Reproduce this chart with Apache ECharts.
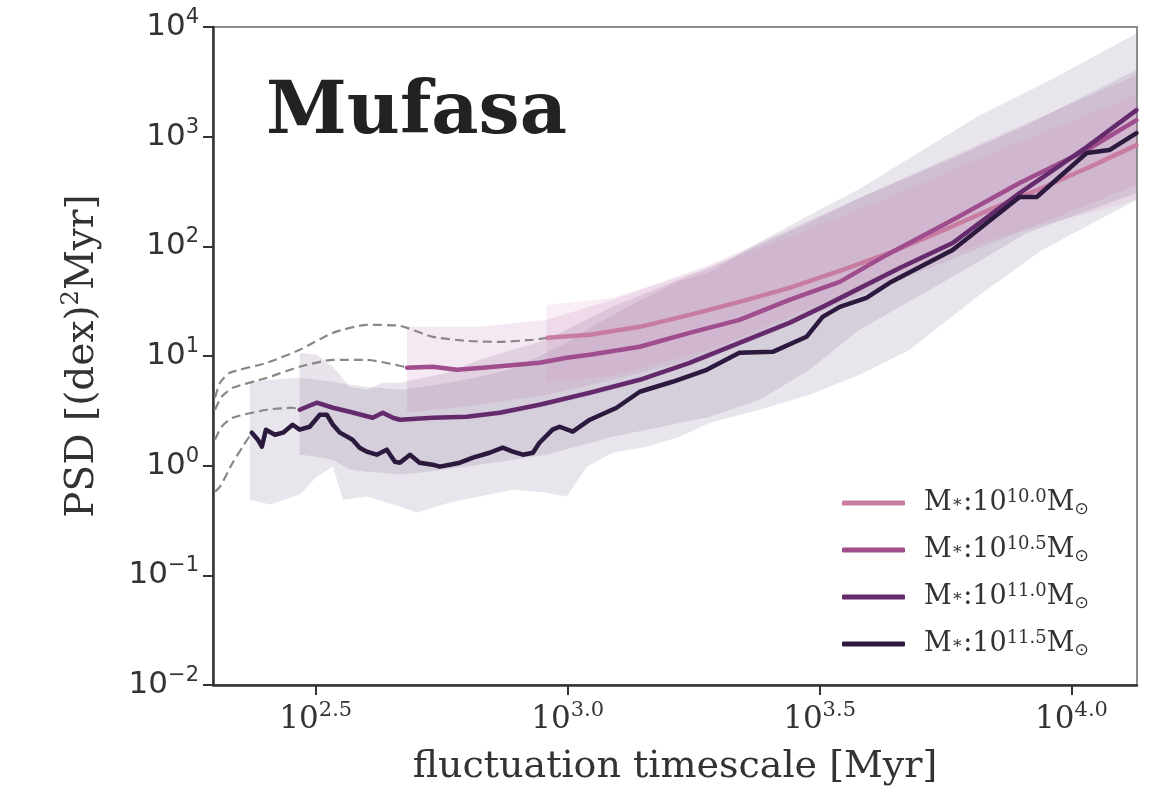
<!DOCTYPE html>
<html><head><meta charset="utf-8">
<script src="https://cdn.jsdelivr.net/npm/echarts@6/dist/echarts.min.js"></script>
<style>html,body{margin:0;padding:0;background:#fff}#c{width:1149px;height:793px}</style>
</head><body><div id="c"></div>
<script>
// all values are log10: x = log10(timescale / Myr), y = log10(PSD)
const massLabels = ['10.0', '10.5', '11.0', '11.5'];
const lineColors = ['#c97ca2', '#a04d8d', '#652a6c', '#2b1a3e'];
const xTickValues = [2.5, 3.0, 3.5, 4.0];
const yTickValues = [-2, -1, 0, 1, 2, 3, 4];

// median PSD lines
const x100 = [2.960,3.044,3.143,3.242,3.341,3.440,3.540,3.639,3.738,3.837,3.937,4.036,4.129];
const y100 = [1.166,1.193,1.266,1.375,1.494,1.621,1.776,1.940,2.131,2.332,2.523,2.723,2.923];
const x105 = [2.681,2.732,2.780,2.831,2.899,2.944,2.998,3.044,3.143,3.242,3.341,3.440,3.540,3.633,3.764,3.897,4.030,4.129];
const y105 = [0.893,0.902,0.874,0.893,0.920,0.938,0.984,1.011,1.084,1.211,1.330,1.512,1.676,1.922,2.240,2.577,2.878,3.151];
const x110 = [2.468,2.502,2.534,2.567,2.613,2.633,2.653,2.667,2.732,2.800,2.865,2.944,3.044,3.143,3.242,3.341,3.440,3.506,3.573,3.659,3.764,3.897,4.030,4.129];
const y110 = [0.510,0.574,0.528,0.492,0.437,0.483,0.437,0.419,0.437,0.446,0.483,0.556,0.665,0.783,0.938,1.120,1.302,1.448,1.603,1.803,2.031,2.486,2.905,3.242];
const x115 = [2.373,2.385,2.393,2.401,2.419,2.435,2.454,2.468,2.488,2.508,2.522,2.534,2.548,2.573,2.587,2.601,2.621,2.641,2.657,2.667,2.687,2.706,2.732,2.746,2.766,2.786,2.812,2.845,2.871,2.891,2.911,2.931,2.944,2.970,2.984,3.010,3.044,3.097,3.143,3.208,3.276,3.341,3.407,3.474,3.506,3.540,3.593,3.639,3.764,3.897,3.931,4.030,4.075,4.129];
const y115 = [0.301,0.237,0.173,0.328,0.282,0.301,0.373,0.328,0.355,0.464,0.464,0.373,0.301,0.237,0.164,0.128,0.100,0.146,0.036,0.027,0.100,0.027,0.009,-0.009,0.009,0.027,0.073,0.118,0.164,0.128,0.100,0.118,0.209,0.328,0.355,0.310,0.419,0.528,0.674,0.765,0.874,1.029,1.038,1.175,1.357,1.448,1.530,1.667,1.967,2.450,2.450,2.851,2.878,3.033];

// dashed extensions to short timescales
const dx100 = [2.300,2.310,2.329,2.403,2.468,2.534,2.601,2.667,2.732,2.800,2.865,2.931,2.960];
const dy100 = [0.619,0.756,0.847,0.938,1.056,1.211,1.284,1.275,1.175,1.138,1.129,1.148,1.166];
const dx105 = [2.300,2.313,2.335,2.403,2.468,2.534,2.601,2.667,2.681];
const dy105 = [0.510,0.628,0.710,0.801,0.902,0.965,0.965,0.911,0.893];
const dx110 = [2.300,2.313,2.335,2.403,2.454,2.468];
const dy110 = [0.237,0.355,0.437,0.510,0.528,0.510];
const dx115 = [2.300,2.310,2.335,2.355,2.373];
const dy115 = [-0.237,-0.191,0.027,0.173,0.301];

// scatter bands (lower / upper)
const band115X  = [2.369,2.409,2.468,2.502,2.534,2.554,2.601,2.667,2.700,2.766,2.825,2.891,2.958,2.998,3.038,3.089,3.157,3.222,3.282,3.381,3.480,3.579,3.679,3.812,3.942,4.042,4.129];
const band115Hi = [0.765,0.783,0.801,0.783,0.765,0.747,0.719,0.692,0.710,0.756,0.811,0.883,1.029,1.120,1.239,1.375,1.539,1.685,1.767,2.040,2.286,2.523,2.805,3.179,3.479,3.725,3.944];
const band115Lo = [-0.310,-0.355,-0.264,-0.100,-0.009,-0.310,-0.282,-0.373,-0.428,-0.337,-0.282,-0.219,-0.246,-0.282,-0.009,0.118,0.173,0.264,0.392,0.510,0.647,0.829,1.056,1.539,1.967,2.213,2.423];
const band110X  = [2.468,2.502,2.534,2.567,2.601,2.633,2.667,2.760,2.825,2.891,2.958,3.089,3.157,3.282,3.381,3.480,3.579,3.778,3.911,4.129];
const band110Hi = [1.029,1.011,0.902,0.719,0.692,0.756,0.756,0.847,0.965,1.056,1.148,1.448,1.576,1.812,2.013,2.222,2.441,2.832,3.106,3.607];
const band110Lo = [0.100,0.082,0.055,-0.036,-0.055,-0.064,-0.082,-0.036,0.009,0.055,0.100,0.264,0.328,0.446,0.601,0.874,1.239,1.758,2.122,2.486];
const band105X  = [2.681,2.825,2.958,3.089,3.282,3.460,3.659,3.857,4.129];
const band105Hi = [1.266,1.266,1.330,1.512,1.831,2.195,2.605,3.015,3.561];
const band105Lo = [0.483,0.556,0.647,0.783,1.011,1.330,1.694,2.058,2.559];
const band100X  = [2.958,3.089,3.282,3.460,3.659,3.857,4.129];
const band100Hi = [1.466,1.530,1.803,2.122,2.486,2.878,3.379];
const band100Lo = [0.765,0.820,1.056,1.403,1.767,2.086,2.423];

const bandFills = ['rgba(210,120,180,0.13)', 'rgba(180,100,160,0.14)', 'rgba(120,80,130,0.16)', 'rgba(140,130,160,0.2)'];

const seriesNames = massLabels.map(m => 'M*:10^' + m + 'Msun');

function pairs(xs, ys) { return xs.map((x, i) => [x, ys[i]]); }

function bandSeries(xs, lo, hi, fill) {
  return {
    type: 'custom', silent: true, z: 1,
    data: xs.map((x, i) => [x, lo[i], hi[i]]),
    encode: { x: 0, y: [1, 2] },
    renderItem: function (params, api) {
      if (params.dataIndex !== 0) return null;
      const pts = [];
      for (let i = 0; i < xs.length; i++) pts.push(api.coord([xs[i], hi[i]]));
      for (let i = xs.length - 1; i >= 0; i--) pts.push(api.coord([xs[i], lo[i]]));
      return { type: 'polygon', shape: { points: pts }, style: { fill: fill } };
    }
  };
}
function dashSeries(xs, ys) {
  return {
    type: 'line', silent: true, z: 2, symbol: 'none', smooth: 0.2,
    data: pairs(xs, ys),
    lineStyle: { color: '#888888', width: 2.2, type: [9, 5] }
  };
}
function lineSeries(name, xs, ys, color, z) {
  return {
    type: 'line', name: name, z: z, symbol: 'none', showSymbol: false,
    data: pairs(xs, ys),
    lineStyle: { color: color, width: 4.5, cap: 'round', join: 'round' },
    itemStyle: { color: color }
  };
}

const serifRich = {
  b: { fontFamily: 'DejaVu Serif', fontSize: 31, color: '#333', lineHeight: 40 },
  sup: { fontFamily: 'DejaVu Serif', fontSize: 21, color: '#333', lineHeight: 28, verticalAlign: 'top' }
};
const sansRich = {
  b: { fontFamily: 'DejaVu Sans', fontSize: 31, color: '#333', lineHeight: 40 },
  sup: { fontFamily: 'DejaVu Sans', fontSize: 21, color: '#333', lineHeight: 28, verticalAlign: 'top' }
};

const chart = echarts.init(document.getElementById('c'), null, { renderer: 'canvas' });
chart.setOption({
  animation: false,
  backgroundColor: '#fff',
  title: {
    text: 'Mufasa', left: 266, top: 78, padding: 0,
    textStyle: { fontFamily: 'DejaVu Serif', fontWeight: 'bold', fontSize: 73, color: '#222' }
  },
  grid: { left: 213, right: 12, top: 27, bottom: 108, show: true, borderColor: '#8c8c8c', borderWidth: 2, backgroundColor: 'transparent' },
  legend: {
    data: seriesNames,
    orient: 'vertical', left: 837, top: 483, itemGap: 17,
    icon: 'roundRect', itemWidth: 63, itemHeight: 5,
    formatter: function (name) {
      const m = massLabels[seriesNames.indexOf(name)];
      return '{m|M}{s|∗}{m|:10}{sup|' + m + '}{m|M}{sun|⊙}';
    },
    textStyle: {
      padding: [0, 0, 0, 14],
      rich: {
        m: { fontFamily: 'DejaVu Serif', fontSize: 27, color: '#333', lineHeight: 30 },
        s: { fontFamily: 'DejaVu Serif', fontSize: 17, color: '#333', lineHeight: 30 },
        sup: { fontFamily: 'DejaVu Serif', fontSize: 18, color: '#333', lineHeight: 20, verticalAlign: 'top' },
        sun: { fontFamily: 'DejaVu Sans', fontSize: 17, color: '#333', lineHeight: 20, verticalAlign: 'bottom' }
      }
    }
  },
  xAxis: {
    type: 'value', min: 2.296, max: 4.13,
    axisLine: { show: true, onZero: false, lineStyle: { color: '#333', width: 2.5 } },
    axisTick: { show: true, length: 10, customValues: xTickValues, lineStyle: { color: '#333', width: 2 } },
    axisLabel: {
      customValues: xTickValues, margin: 15,
      formatter: v => '{b|10}{sup|' + v.toFixed(1) + '}',
      rich: serifRich
    },
    splitLine: { show: false },
    name: 'fluctuation timescale [Myr]', nameLocation: 'middle', nameGap: 63,
    nameTextStyle: { fontFamily: 'DejaVu Serif', fontSize: 38, color: '#333' }
  },
  yAxis: {
    type: 'value', min: -2, max: 4, interval: 1,
    axisLine: { show: true, onZero: false, lineStyle: { color: '#333', width: 2.5 } },
    axisTick: { show: true, length: 10, lineStyle: { color: '#333', width: 2 } },
    axisLabel: {
      margin: 14,
      formatter: v => '{b|10}{sup|' + (v < 0 ? '\u2212' + (-v) : v) + '}',
      rich: sansRich
    },
    splitLine: { show: false },
    name: '{n|PSD [(dex)}{sup|2}{n|Myr]}', nameLocation: 'middle', nameGap: 107, nameRotate: 90,
    nameTextStyle: {
      rich: {
        n: { fontFamily: 'DejaVu Serif', fontSize: 39, color: '#333', lineHeight: 46 },
        sup: { fontFamily: 'DejaVu Serif', fontSize: 24, color: '#333', lineHeight: 32, verticalAlign: 'top' }
      }
    }
  },
  series: [
    bandSeries(band115X, band115Lo, band115Hi, bandFills[3]),
    bandSeries(band110X, band110Lo, band110Hi, bandFills[2]),
    bandSeries(band105X, band105Lo, band105Hi, bandFills[1]),
    bandSeries(band100X, band100Lo, band100Hi, bandFills[0]),
    dashSeries(dx100, dy100),
    dashSeries(dx105, dy105),
    dashSeries(dx110, dy110),
    dashSeries(dx115, dy115),
    lineSeries(seriesNames[0], x100, y100, lineColors[0], 3),
    lineSeries(seriesNames[1], x105, y105, lineColors[1], 4),
    lineSeries(seriesNames[2], x110, y110, lineColors[2], 5),
    lineSeries(seriesNames[3], x115, y115, lineColors[3], 6)
  ]
});
</script>
</body></html>
